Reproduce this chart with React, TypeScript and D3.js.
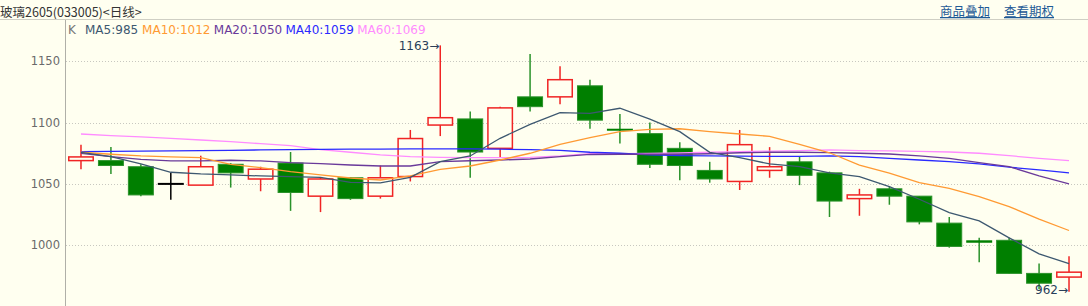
import React from "react";
import * as d3 from "d3";

const W = 1088;
const H = 306;

const opens = [1069,1069,1064,1050,1049,1066,1054,1067,1040,1055,1040,1056,1098,1103,1079,1121,1121,1130,1095,1091,1079,1061,1052,1061,1068,1059,1038,1046,1040,1018,1004,1004,977,974];
const highs = [1082,1080,1066,1059,1073,1067,1064,1076,1055,1055.5,1065,1094,1163,1109,1113,1156,1146,1135,1107,1100,1084,1068,1094,1080,1072,1060,1046,1048,1040,1023,1006,1006,985,991];
const lows = [1062,1058,1040,1037,1049,1047,1044,1028,1027,1037,1038,1052,1089,1055,1072,1109,1115,1095,1083,1063,1053,1051,1045,1055,1049,1023,1024,1033,1017,998,986,977,964,962];
const closes = [1072,1065,1041,1050,1064,1059,1062,1043,1054,1038,1055,1087,1104,1076,1112,1113,1135,1102,1094,1066,1065,1054,1082,1064,1057,1036,1041,1040,1019,999,1002,977,969,978];

const ma5 = [1075.8,1072.2,1066.3,1059.5,1058.1,1057.3,1056.5,1056,1055.4,1051.3,1050.8,1055.4,1068.1,1072.8,1087.2,1098.6,1108.1,1107.6,1111.7,1102.9,1092.6,1075.8,1071.4,1066.3,1064.1,1059,1055.9,1047.8,1037.5,1026.6,1019.8,1006,992.9,985];
const ma10 = [1075.8,1074.2,1072.8,1072,1071.4,1066,1063.3,1060,1057.3,1054.8,1053.2,1056.5,1061.9,1064.6,1069.5,1075,1082.3,1087.7,1092.6,1094.5,1095,1092.6,1090.7,1088.8,1082.3,1075.4,1065.4,1058.7,1051,1046.4,1039.6,1031.5,1021.2,1012];
const ma20 = [1075,1072.2,1070,1068.7,1068.7,1069.3,1068.7,1067.3,1066.5,1065.4,1064.6,1064.6,1068.1,1068.9,1069.5,1070.3,1072.2,1074,1074.2,1074.2,1074.2,1074.6,1075.4,1075.8,1075.8,1075.5,1075,1074.4,1072.8,1070.9,1067.3,1064.1,1056.5,1050];
const ma40 = [1076.3,1076.5,1076.8,1077,1077.2,1077.4,1077.7,1078,1078.2,1078.3,1078.4,1078.5,1078.5,1078.5,1078.3,1078,1077.3,1075.8,1075,1073.6,1073,1072.8,1072.6,1072.5,1072.5,1072.8,1072.2,1070.9,1069.5,1068.1,1066.3,1063.6,1061.4,1059];
const ma60 = [1090.7,1089.4,1088.3,1087.2,1085.8,1084.4,1082.8,1081.2,1078,1075.8,1073.6,1072.2,1071.7,1071.4,1071.4,1071.7,1072.8,1074.6,1074.7,1074.8,1075.2,1075.8,1076.3,1076.8,1077.2,1077.7,1077.1,1076.9,1076.6,1076,1075,1073,1070.9,1069];

const yTicks = [1000, 1050, 1100, 1150];
const title = "玻璃2605(033005)<日线>";
const links = ["商品叠加", "查看期权"];
const legendItems = [
  { label: "MA5:985", color: "#3d5870" },
  { label: "MA10:1012", color: "#ff9a33" },
  { label: "MA20:1050", color: "#6a3a9a" },
  { label: "MA40:1059", color: "#2a2aff" },
  { label: "MA60:1069", color: "#ff8cff" },
];
const maSeries = [
  { data: ma60, color: "#ff8cff" },
  { data: ma40, color: "#2a2aff" },
  { data: ma20, color: "#6a3a9a" },
  { data: ma10, color: "#ff9a33" },
  { data: ma5, color: "#3d5870" },
];

const RED = "#f02424";
const GREEN = "#007f00";
const GREEN_EDGE = "#2a922a";

export default function App() {
  const idx = d3.range(closes.length);
  const x = d3.scaleBand<number>().domain(idx).range([66, 1084]).paddingInner(0.133).paddingOuter(0.067);
  const y = d3.scaleLinear().domain([950, 1150]).range([306.5, 61.3]);
  const bw = x.bandwidth();
  const cx = (i: number) => (x(i) as number) + bw / 2;

  const line = d3.line<number>().x((_, i) => cx(i)).y((v) => y(v));

  const maxI = d3.maxIndex(highs);
  const minI = d3.minIndex(lows);

  let legendX = 85;
  const charW = 7.3;

  return (
    <svg width={W} height={H} style={{ position: "absolute", left: 0, top: 0, background: "#fffff0" }}
      fontFamily="'DejaVu Sans', sans-serif">
      <rect x={0} y={0} width={W} height={H} fill="#fffff0" />
      <text x={0} y={17} fontSize={12.5} fill="#333" fontFamily="'Noto Sans CJK SC', sans-serif">{title}</text>
      {links.map((t, i) => (
        <text key={t} x={940 + i * 64} y={16} fontSize={12.5} fill="#1e5a96"
          textDecoration="underline" fontFamily="'Noto Sans CJK SC', sans-serif">{t}</text>
      ))}
      <line x1={0} x2={W} y1={19.5} y2={19.5} stroke="#cfcfc4" />
      <line x1={65.5} x2={65.5} y1={20} y2={H} stroke="#b0b0a8" />
      {yTicks.map((t) => (
        <g key={t}>
          <line x1={66} x2={W} y1={Math.round(y(t)) + 0.5} y2={Math.round(y(t)) + 0.5}
            stroke="#c8c8c0" strokeDasharray="1,2" />
          <text x={60} y={y(t)} dy="0.35em" textAnchor="end" fontSize={11.5} fill="#6a6a6a">{t}</text>
        </g>
      ))}
      <text x={68} y={34} fontSize={12} fill="#777">K</text>
      {legendItems.map((it) => {
        const xx = legendX;
        legendX += it.label.length * charW + 6;
        return <text key={it.label} x={xx} y={34} fontSize={12} fill={it.color}>{it.label}</text>;
      })}
      {idx.map((i) => {
        const o = opens[i], c = closes[i], h = highs[i], l = lows[i];
        const up = c > o;
        const flat = c === o;
        const col = flat ? "#000" : up ? RED : GREEN;
        const x0 = x(i) as number;
        const top = y(Math.max(o, c));
        const bot = y(Math.min(o, c));
        const mid = cx(i);
        if (up) {
          return (
            <g key={i}>
              <line x1={mid} x2={mid} y1={y(h)} y2={top} stroke={RED} strokeWidth={1.5} />
              <line x1={mid} x2={mid} y1={bot} y2={y(l)} stroke={RED} strokeWidth={1.5} />
              <rect x={x0 + 0.75} y={top} width={bw - 1.5} height={Math.max(bot - top, 1)}
                fill="#fffff0" stroke={RED} strokeWidth={1.5} />
            </g>
          );
        }
        if (flat || bot - top < 2.5) {
          return (
            <g key={i}>
              <line x1={mid} x2={mid} y1={y(h)} y2={y(l)} stroke={flat ? "#000" : GREEN_EDGE} strokeWidth={1.5} />
              <rect x={x0} y={top - (flat ? 1 : 0)} width={bw} height={Math.max(bot - top, 2)} fill={col} />
            </g>
          );
        }
        return (
          <g key={i}>
            <line x1={mid} x2={mid} y1={y(h)} y2={y(l)} stroke={GREEN_EDGE} strokeWidth={1.5} />
            <rect x={x0 + 0.5} y={top} width={bw - 1} height={bot - top} fill={GREEN} stroke={GREEN_EDGE} strokeWidth={1} />
          </g>
        );
      })}
      {maSeries.map((s, k) => (
        <path key={k} d={line(s.data) || ""} fill="none" stroke={s.color} strokeWidth={1.3} />
      ))}
      <text x={cx(maxI) - 1} y={y(highs[maxI])} dy="0.35em" textAnchor="end" fontSize={12} fill="#2a3f5a">{`${highs[maxI]}→`}</text>
      <text x={cx(minI) - 1} y={y(lows[minI])} dy="0.2em" textAnchor="end" fontSize={12} fill="#2a3f5a">{`${lows[minI]}→`}</text>
    </svg>
  );
}
